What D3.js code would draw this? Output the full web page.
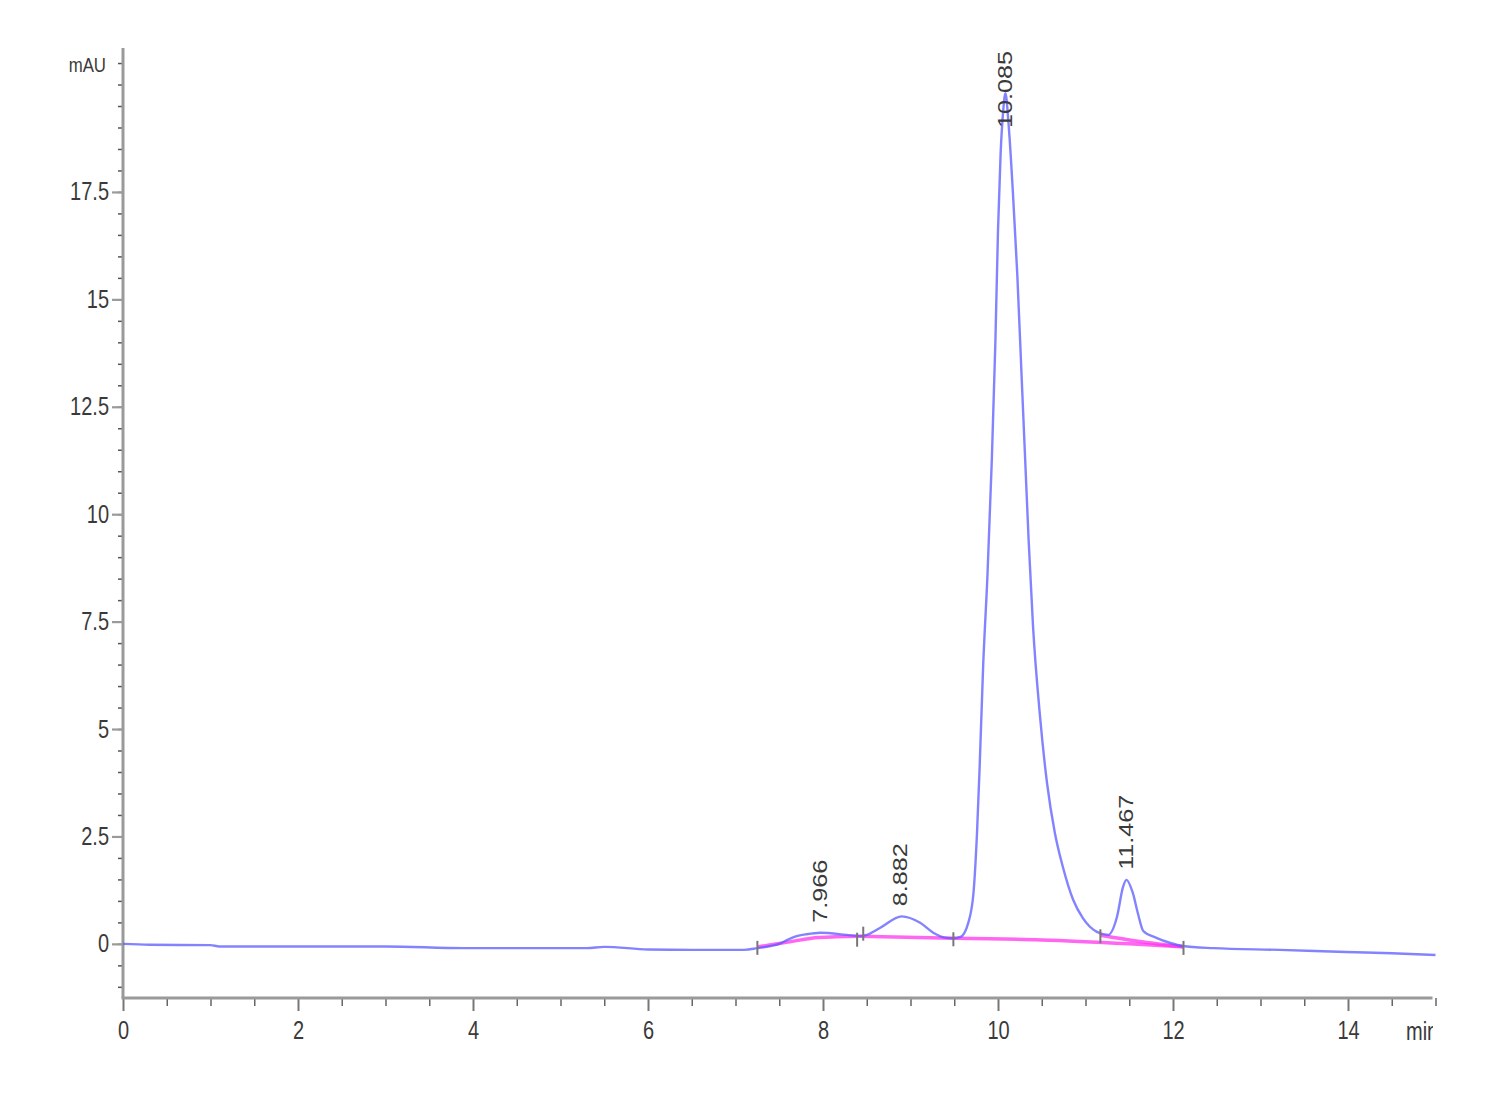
<!DOCTYPE html>
<html>
<head>
<meta charset="utf-8">
<script src="https://cdn.jsdelivr.net/npm/d3@7"></script>
<style>
  html, body { margin: 0; padding: 0; background: #fff; }
  svg { display: block; }
  .tick-label { font-family: "Liberation Sans", Arial, sans-serif; fill: #3a3a3a; }
  .peak-label { font-family: "Liberation Sans", Arial, sans-serif; fill: #3a3a3a; }
</style>
</head>
<body>
<svg id="chart" width="1500" height="1100"></svg>
<script>
// ---- Data ----
// retention time (min)
const traceTime = [0, 0.3, 1.0, 1.1, 2.0, 3.0, 3.9, 4.5, 5.3, 5.5, 6.0, 6.5, 7.1, 7.25, 7.4, 7.5, 7.6, 7.7, 7.8, 7.97, 8.27, 8.42, 8.5, 8.65, 8.9, 9.11, 9.26, 9.41, 9.49, 9.57, 9.66, 9.72, 9.76, 9.79, 9.83, 9.88, 9.93, 9.97, 10.0, 10.03, 10.06, 10.085, 10.12, 10.17, 10.22, 10.27, 10.31, 10.35, 10.40, 10.48, 10.56, 10.65, 10.74, 10.86, 10.97, 11.13, 11.26, 11.36, 11.43, 11.467, 11.54, 11.6, 11.66, 11.81, 11.97, 12.11, 12.46, 13.22, 13.98, 14.5, 15.0];
// absorbance (mAU)
const traceValue = [0.0, -0.02, -0.03, -0.06, -0.06, -0.06, -0.1, -0.1, -0.1, -0.07, -0.13, -0.14, -0.14, -0.1, -0.05, 0.0, 0.1, 0.18, 0.22, 0.26, 0.21, 0.18, 0.21, 0.37, 0.64, 0.49, 0.26, 0.14, 0.13, 0.16, 0.49, 1.19, 2.58, 4.1, 6.45, 8.6, 11.3, 14.0, 16.6, 18.4, 19.4, 19.8, 19.1, 17.5, 15.6, 13.2, 11.3, 9.4, 7.4, 5.3, 3.75, 2.58, 1.8, 1.02, 0.6, 0.28, 0.21, 0.63, 1.33, 1.49, 1.19, 0.7, 0.3, 0.14, 0.02, -0.05, -0.1, -0.14, -0.19, -0.22, -0.26];

// integration baselines (magenta), each a list of [time, mAU]
const baselineA = [[7.25, -0.07], [7.6, 0.04], [7.95, 0.15], [8.42, 0.18]];
const baselineB = [[8.42, 0.18], [9.49, 0.13]];
const baselineC = [[9.49, 0.13], [10.5, 0.09], [11.5, 0.0], [12.12, -0.07]];
const baselineD = [[11.17, 0.2], [11.6, 0.06], [12.12, -0.07]];

// integration event markers (min, mAU at marker)
const markerTime = [7.25, 8.39, 8.46, 9.49, 11.17, 12.12];
const markerValue = [-0.07, 0.12, 0.26, 0.13, 0.2, -0.07];

// peaks
const peakTime = [7.966, 8.882, 10.085, 11.467];
const peakLabel = ["7.966", "8.882", "10.085", "11.467"];
const peakValue = [0.26, 0.64, 19.8, 1.49];

// axes
const xTicks = [0, 2, 4, 6, 8, 10, 12, 14];
const yTicks = [0, 2.5, 5, 7.5, 10, 12.5, 15, 17.5];
const xDomain = [0, 15];
const yDomain = [-1.26, 20.85];

// ---- Drawing ----
(function draw() {
const svg = d3.select("#chart");
const pLeft = 123, pRight = 1435.5, pTop = 48, pBottom = 998;
const narrow = 0.8;   // horizontal compression to mimic a narrow font

const x = d3.scaleLinear().domain(xDomain).range([pLeft, pLeft + 87.5 * 15]);
const y = d3.scaleLinear().domain(yDomain).range([pBottom, pTop]);

const gridColor = "#9a9a9a";

svg.append("defs").append("clipPath").attr("id", "clipMin")
  .append("rect").attr("x", 0).attr("y", 0).attr("width", 1433).attr("height", 1100);

// Y axis minor ticks
const yMinor = d3.range(-1.0, 20.51, 0.5);
const yAxis = d3.axisLeft(y).tickValues(yMinor).tickSize(5).tickFormat("");
const gy = svg.append("g").attr("transform", `translate(${pLeft},0)`).call(yAxis);
gy.select(".domain").remove();
gy.selectAll(".tick line").attr("stroke", "#555").attr("stroke-width", 1.5);

const yMajorAxis = d3.axisLeft(y).tickValues(yTicks).tickSize(11).tickPadding(4).tickFormat(d => d);
const gy2 = svg.append("g").attr("transform", `translate(${pLeft},0)`).call(yMajorAxis);
gy2.select(".domain").remove();
gy2.selectAll(".tick line").attr("stroke", gridColor).attr("stroke-width", 2.2);
gy2.selectAll(".tick text").attr("class", "tick-label").attr("font-size", 25).attr("fill", "#3a3a3a")
  .attr("x", -14 / narrow).attr("transform", `scale(${narrow},1)`);

svg.append("line").attr("x1", pLeft).attr("x2", pLeft).attr("y1", pTop).attr("y2", pBottom)
  .attr("stroke", gridColor).attr("stroke-width", 3);

svg.append("text").attr("class", "tick-label")
  .attr("transform", `translate(106,72) scale(${narrow},1)`)
  .attr("text-anchor", "end").attr("font-size", 21).text("mAU");

// X axis
const xMinor = d3.range(0, 15.01, 0.5).filter(v => !xTicks.includes(v));
const xAxisMinor = d3.axisBottom(x).tickValues(xMinor).tickSize(8).tickFormat("");
const gx = svg.append("g").attr("transform", `translate(0,${pBottom})`).call(xAxisMinor);
gx.select(".domain").remove();
gx.selectAll(".tick line").attr("stroke", "#666").attr("stroke-width", 1.5);

const xAxisMajor = d3.axisBottom(x).tickValues(xTicks).tickSize(13).tickPadding(10).tickFormat(d => d);
const gx2 = svg.append("g").attr("transform", `translate(0,${pBottom})`).call(xAxisMajor);
gx2.select(".domain").remove();
gx2.selectAll(".tick line").attr("stroke", "#777").attr("stroke-width", 2);
gx2.selectAll(".tick text").attr("class", "tick-label").attr("font-size", 25).attr("fill", "#3a3a3a")
  .attr("transform", `scale(${narrow},1)`);

svg.append("line").attr("x1", pLeft - 1.5).attr("x2", pRight - 3).attr("y1", pBottom).attr("y2", pBottom)
  .attr("stroke", gridColor).attr("stroke-width", 3);

svg.append("g").attr("clip-path", "url(#clipMin)")
  .append("text").attr("class", "tick-label")
  .attr("transform", `translate(1406,1040) scale(${narrow},1)`)
  .attr("font-size", 25).text("min");

// trace
const traceData = traceTime.map((t, i) => [t, traceValue[i]]);
const line = d3.line().x(d => x(d[0])).y(d => y(d[1])).curve(d3.curveMonotoneX);

[baselineA, baselineB, baselineC, baselineD].forEach(b => {
  svg.append("path").attr("d", line(b)).attr("fill", "none")
    .attr("stroke", "#ff33ee").attr("stroke-opacity", 0.75).attr("stroke-width", 3.5);
});

svg.append("path").attr("d", line(traceData)).attr("fill", "none")
  .attr("stroke", "#5a5aff").attr("stroke-opacity", 0.75).attr("stroke-width", 2.4)
  .attr("stroke-linejoin", "round");

markerTime.forEach((t, i) => {
  svg.append("line").attr("x1", x(t)).attr("x2", x(t))
    .attr("y1", y(markerValue[i]) - 6).attr("y2", y(markerValue[i]) + 8)
    .attr("stroke", "#777").attr("stroke-width", 2);
});

peakTime.forEach((t, i) => {
  const labelLen = 13 * peakLabel[i].length;
  const startY = Math.max(y(peakValue[i]) - 10, 50 + labelLen);
  svg.append("text").attr("class", "peak-label")
    .attr("font-size", 21)
    .attr("transform", `translate(${x(t) + 7},${startY}) rotate(-90) scale(1.2,1)`)
    .text(peakLabel[i]);
});
})();
</script>
</body>
</html>
